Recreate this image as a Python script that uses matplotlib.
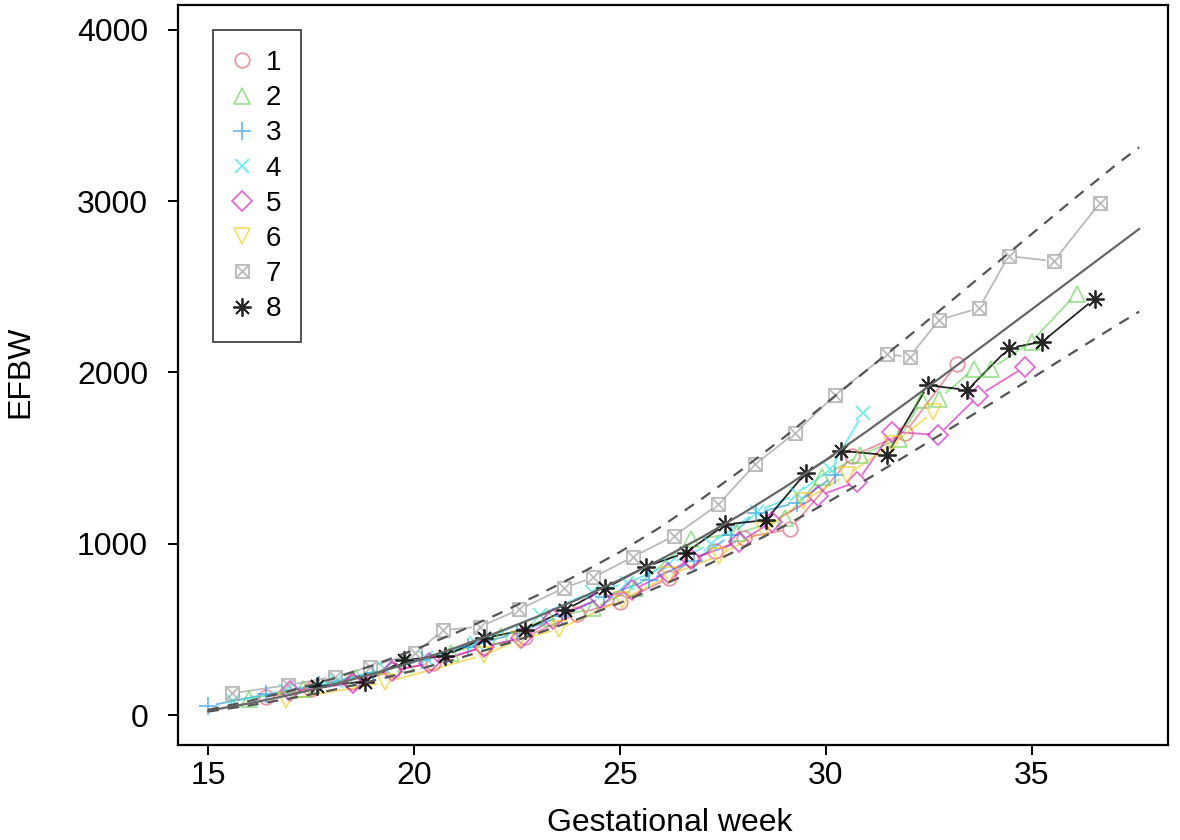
import numpy as np
import matplotlib
matplotlib.use("Agg")
import matplotlib.pyplot as plt
from matplotlib.path import Path
from matplotlib.collections import LineCollection
from matplotlib.lines import Line2D

plt.rcParams['font.family'] = ['Liberation Sans', 'DejaVu Sans']

# ---- reference curves (mean, upper and lower limits) ----
ref_weeks = [15, 16, 17, 18, 19, 20, 21, 22, 23, 24, 25, 26, 27, 28, 29, 30,
             31, 32, 33, 34, 35, 36, 37, 37.6]
ref_mean = [25, 68, 118, 175, 240, 312, 392, 480, 575, 678, 790, 910, 1040,
            1180, 1330, 1490, 1658, 1832, 2010, 2190, 2370, 2550, 2730, 2838]
ref_upper = [30, 82, 142, 210, 290, 380, 478, 585, 700, 822, 952, 1100, 1265,
             1440, 1625, 1820, 2015, 2210, 2410, 2610, 2810, 3010, 3205, 3315]
ref_lower = [20, 56, 97, 145, 200, 260, 325, 398, 477, 562, 655, 755, 863,
             980, 1105, 1237, 1377, 1522, 1670, 1818, 1968, 2118, 2268, 2355]

# ---- individual fetuses ----
s1_weeks = [16.4, 17.5, 18.5, 19.5, 20.45, 21.7, 22.7, 23.95, 25.0, 26.2, 26.72,
            27.31, 28.0, 29.13, 30.64, 31.91, 33.17]
s1_efbw = [105, 150, 190, 262, 302, 397, 455, 590, 660, 800, 909,
           957, 1035, 1085, 1513, 1646, 2049]

s2_weeks = [16.0, 17.3, 18.6, 19.8, 20.9, 22.1, 23.26, 24.34, 25.36, 26.72, 27.85,
            29.0, 29.9, 30.83, 31.78, 32.33, 32.75, 33.6, 34.0, 34.99, 36.08]
s2_efbw = [95, 150, 215, 300, 360, 460, 564, 622, 741, 1025, 1060,
           1150, 1390, 1518, 1613, 1840, 1848, 2023, 2020, 2180, 2461]

s3_weeks = [15.0, 16.4, 17.7, 19.0, 20.2, 21.3, 22.5, 23.6, 24.6, 25.7, 26.8,
            27.7, 28.3, 29.3, 30.22]
s3_efbw = [53, 120, 175, 245, 320, 395, 480, 580, 690, 790, 900,
           1050, 1180, 1240, 1401]

s4_weeks = [15.6, 16.9, 18.1, 19.3, 20.3, 21.5, 23.06, 24.31, 25.16, 26.2, 27.2,
            28.32, 29.3, 30.1, 30.9]
s4_efbw = [80, 140, 200, 270, 335, 420, 584, 720, 768, 880, 1000,
           1187, 1290, 1435, 1761]

s5_weeks = [17.0, 18.51, 19.46, 20.37, 21.7, 22.6, 23.38, 24.51, 25.3, 26.17, 26.72,
            27.9, 28.69, 29.81, 30.76, 31.6, 32.73, 33.7, 34.83]
s5_efbw = [140, 185, 259, 301, 399, 450, 560, 683, 730, 832, 912,
           1010, 1128, 1280, 1362, 1654, 1635, 1865, 2033]

s6_weeks = [16.9, 19.3, 21.7, 22.55, 23.52, 25.06, 26.2, 27.4, 28.5, 29.45, 30.5,
            31.6, 32.6]
s6_efbw = [90, 190, 350, 438, 503, 673, 817, 930, 1080, 1250, 1400,
           1580, 1768]

s7_weeks = [15.58, 16.95, 18.08, 18.93, 20.02, 20.71, 21.6, 22.56, 23.65, 24.35,
            25.32, 26.32, 27.39, 28.28, 29.25, 30.22, 31.47, 32.03, 32.75, 33.72,
            34.43, 35.53, 36.65]
s7_efbw = [127, 175, 224, 282, 360, 496, 515, 617, 743, 803,
           924, 1047, 1230, 1463, 1648, 1868, 2106, 2092, 2308, 2376,
           2680, 2650, 2991]

s8_weeks = [17.64, 18.81, 19.76, 20.74, 21.7, 22.69, 23.67, 24.64, 25.62, 26.59,
            27.56, 28.54, 29.51, 30.36, 31.47, 32.48, 33.43, 34.43, 35.25, 36.53]
s8_efbw = [169, 195, 321, 345, 448, 498, 613, 739, 866, 947,
           1113, 1138, 1415, 1543, 1518, 1926, 1897, 2141, 2180, 2432]

series_labels = ['1', '2', '3', '4', '5', '6', '7', '8']
series_weeks = [s1_weeks, s2_weeks, s3_weeks, s4_weeks, s5_weeks, s6_weeks, s7_weeks, s8_weeks]
series_efbw = [s1_efbw, s2_efbw, s3_efbw, s4_efbw, s5_efbw, s6_efbw, s7_efbw, s8_efbw]

# ---- styles ----
colors = ['#DF536B', '#61D04F', '#2297E6', '#28E2E5', '#CD0BBC', '#F5C710', '#9E9E9E', '#000000']
alphas = [0.6, 0.6, 0.65, 0.65, 0.6, 0.6, 0.7, 0.85]

sqx = Path([(-1, -1), (1, -1), (1, 1), (-1, 1), (-1, -1),
            (-1, -1), (1, 1), (-1, 1), (1, -1)],
           [Path.MOVETO, Path.LINETO, Path.LINETO, Path.LINETO, Path.CLOSEPOLY,
            Path.MOVETO, Path.LINETO, Path.MOVETO, Path.LINETO])
markers = ['o', '^', '+', 'x', 'D', 'v', sqx, (8, 2, 0)]
msizes = [10.5, 11.5, 13, 10.5, 10, 11.5, 9.5, 13]

fig = plt.figure(figsize=(11.8, 8.4), dpi=100)
ax = fig.add_axes([0.1508, 0.1131, 0.8390, 0.8810])
ax.set_xlim(14.27, 38.30)
ax.set_ylim(-175, 4146)


def gapped_segments(x, y, gap):
    pts = ax.transData.transform(np.column_stack([x, y]))
    inv = ax.transData.inverted()
    segs = []
    for p0, p1 in zip(pts[:-1], pts[1:]):
        d = p1 - p0
        L = np.hypot(d[0], d[1])
        if L > 2 * gap + 1:
            u = d / L
            segs.append(inv.transform(np.vstack([p0 + u * gap, p1 - u * gap])))
    return segs


for i in range(8):
    x = np.asarray(series_weeks[i], float)
    y = np.asarray(series_efbw[i], float)
    segs = gapped_segments(x, y, 8)
    lc = LineCollection(segs, colors=colors[i], linewidths=1.3, alpha=alphas[i], zorder=2)
    ax.add_collection(lc)
    ax.plot(x, y, ls='none', marker=markers[i], ms=msizes[i], mfc='none',
            mec=colors[i], mew=1.3, alpha=alphas[i], zorder=3)

ax.plot(ref_weeks, ref_mean, color='#666666', lw=1.6, zorder=4)
ax.plot(ref_weeks, ref_upper, color='#555555', lw=1.6, ls=(0, (5, 4)), zorder=4)
ax.plot(ref_weeks, ref_lower, color='#555555', lw=1.6, ls=(0, (5, 4)), zorder=4)

ax.set_xticks([15, 20, 25, 30, 35])
ax.set_yticks([0, 1000, 2000, 3000, 4000])
ax.tick_params(axis='both', direction='out', length=7.5, width=1.4, labelsize=23, colors='black')
ax.tick_params(axis='x', pad=4)
ax.tick_params(axis='y', pad=14)
for sp in ax.spines.values():
    sp.set_linewidth(1.6)
    sp.set_color('black')

handles = [Line2D([], [], ls='none', marker=markers[i], ms=msizes[i], mfc='none',
                  mec=colors[i], mew=1.3, alpha=alphas[i]) for i in range(8)]
leg = ax.legend(handles, series_labels, loc='upper left', bbox_to_anchor=(0.0354, 0.966),
                borderaxespad=0, frameon=True, fancybox=False, fontsize=20,
                handlelength=0.62, handletextpad=0.55, labelspacing=0.33, borderpad=0.72,
                framealpha=1)
leg.get_frame().set_edgecolor('#444444')
leg.get_frame().set_linewidth(1.3)

fig.text(20 / 1180, 1 - 372 / 840, 'EFBW', rotation=90, ha='center', va='center', fontsize=23)
fig.text(670 / 1180, 1 - 823 / 840, 'Gestational week', ha='center', va='center', fontsize=23)

fig.savefig('out.png', dpi=100)
